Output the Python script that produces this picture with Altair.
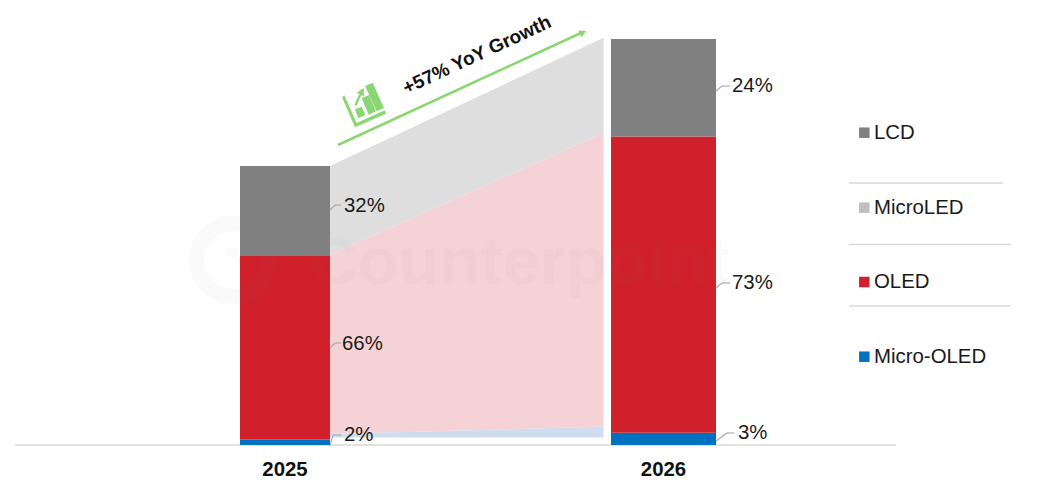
import altair as alt
import pandas as pd

# ---- data ----
years = ["2025", "2026"]
series = ["Micro-OLED", "OLED", "LCD"]
share_2025 = [2, 66, 32]
share_2026 = [3, 73, 24]
bar_total_index = [100, 145.5]          # bar heights, 2025 = 100
flow_years = [2025, 2026]
flow_blue_low = [2.7, 2.7]
flow_blue_high = [3.9, 6.6]
flow_red_high = [68.3, 111.8]
flow_grey_high = [100, 145.9]
legend_labels = ["LCD", "MicroLED", "OLED", "Micro-OLED"]
growth_label = "+57% YoY Growth"
watermark = "Counterpoint"

# ---- style ----
W, H = 1043, 473
FONT = "Liberation Sans"
COL = {"LCD": "#808080", "MicroLED": "#BFBFBF", "OLED": "#D0202B", "Micro-OLED": "#0070C0"}
GREEN = "#8AD672"
LINE = "#D9D9D9"
LEADER = "#ABABAB"
OFF = 8  # page margin: layout below is measured in page pixels

yscale = alt.Scale(domain=[-12.9, 156.6], range=[H, 0], nice=False, zero=False, clamp=False)
xflow = alt.Scale(domain=[2025, 2026], range=[330 - OFF, 603.6 - OFF], nice=False, zero=False)
Y = lambda f: alt.Y(f"{f}:Q", scale=yscale, axis=None)
one = pd.DataFrame({"a": [0]})


def seg(x1, y1, x2, y2, color=LINE, width=1.5):
    return alt.Chart(one).mark_rule(color=color, strokeWidth=width).encode(
        x=alt.value(x1 - OFF), x2=alt.value(x2 - OFF),
        y=alt.value(y1 - OFF), y2=alt.value(y2 - OFF))


def label(text, x, y, size=20.4, bold=False, align="left", angle=0, color="#1A1A1A", opacity=1):
    return alt.Chart(one).mark_text(
        text=text, font=FONT, fontSize=size, fontWeight="bold" if bold else "normal",
        align=align, baseline="middle", angle=angle, color=color, opacity=opacity
    ).encode(x=alt.value(x - OFF), y=alt.value(y - OFF))


def flow(low, high, color):
    df = pd.DataFrame({"yr": flow_years, "lo": low, "hi": high})
    return alt.Chart(df).mark_area(color=color, opacity=1).encode(
        x=alt.X("yr:Q", scale=xflow, axis=None), y=Y("hi"), y2="lo:Q")


def bar(shares, total, x1, x2):
    rows, c = [], 0
    for s, v in zip(series, shares):
        rows.append({"series": s, "y0": c * total / 100, "y1": (c + v) * total / 100})
        c += v
    return alt.Chart(pd.DataFrame(rows)).mark_rect().encode(
        x=alt.value(x1 - OFF), x2=alt.value(x2 - OFF),
        y=Y("y1"), y2="y0:Q",
        color=alt.Color("series:N", legend=None,
                        scale=alt.Scale(domain=list(COL), range=list(COL.values()))))


def icon_path():
    # outline traced from the icon, normalised around its centre
    cx, cy, r = 44 * 3, 105 * 3, 21 * 3
    polys = [
        [(66, 292), (73, 286), (110, 369), (194, 331), (198, 341), (105, 382)],
        [(105, 328), (125, 320), (136, 345), (115, 355)],
        [(125, 294), (147, 285), (168, 334), (146, 344)],
        [(135, 258), (158, 248), (192, 324), (170, 334)],
        [(103, 314), (118, 281), (110, 278), (131, 264), (132, 289), (124, 285), (109, 318)],
    ]
    d = ""
    for p in polys:
        pts = [f"{(x - cx) / r:.3f},{(y - cy) / r:.3f}" for x, y in p]
        d += "M" + "L".join(pts) + "Z"
    return d


def point(shape, x, y, size, color, angle=0, filled=True, width=0, opacity=1):
    return alt.Chart(one).mark_point(
        shape=shape, filled=filled, color=color, size=size, angle=angle,
        opacity=opacity, strokeWidth=width
    ).encode(x=alt.value(x - OFF), y=alt.value(y - OFF))


layers = [
    seg(15, 445, 896, 445),
    flow(flow_red_high, flow_grey_high, "#DEDEDE"),
    flow(flow_blue_high, flow_red_high, "#F5D2D5"),
    flow(flow_blue_low, flow_blue_high, "#D0DDEE"),
    bar(share_2025, bar_total_index[0], 240, 330),
    bar(share_2026, bar_total_index[1], 611, 716),
    # watermark
    label(watermark, 309, 264, size=67, bold=True, color="#808080", opacity=0.035),
    point("circle", 233, 260, 5329, "#808080", filled=False, width=15, opacity=0.035),
    point("circle", 232, 252, 144, "#808080", opacity=0.035),
    # year labels
    label(years[0], 285, 470, bold=True, align="center", color="#111111"),
    label(years[1], 663.5, 470, bold=True, align="center", color="#111111"),
    # growth annotation
    seg(338, 145, 583, 32, GREEN, 2.5),
    point("triangle-up", 583, 32.5, 60, GREEN, angle=65),
    label(growth_label, 477, 55, size=19, bold=True, align="center", angle=335, color="#111111"),
    point(icon_path(), 364, 105, 42 * 42, GREEN),
]

# value labels and leader lines
value_labels = [
    (f"{share_2025[2]}%", 344, 206, [(330, 210, 335, 205), (335, 205, 341, 205)]),
    (f"{share_2025[1]}%", 342, 344, [(330, 348, 335, 343), (335, 343, 341, 343)]),
    (f"{share_2025[0]}%", 344, 434.5, [(330, 446, 333, 435), (333, 435, 341, 435)]),
    (f"{share_2026[2]}%", 732, 86, [(716, 91, 722, 86), (722, 86, 730, 86)]),
    (f"{share_2026[1]}%", 732, 283, [(716, 288, 722, 283), (722, 283, 730, 283)]),
    (f"{share_2026[0]}%", 738, 432.5, [(716, 441, 727, 433), (727, 433, 734, 433)]),
]
for text, x, y, segs in value_labels:
    layers += [seg(*s, color=LEADER, width=1.2) for s in segs]
    layers.append(label(text, x, y))

# legend
for name, y in zip(legend_labels, [132.7, 207.7, 282, 356.7]):
    layers.append(point("square", 864.3, y, 110, COL[name]))
    layers.append(label(name, 874, y))
layers += [seg(849, 183, 1003, 183), seg(849, 244.5, 1011, 244.5), seg(849, 306, 1010, 306)]

chart = alt.layer(*layers).resolve_scale(color="independent").properties(
    width=W, height=H, padding=0, autosize=alt.AutoSizeParams(type="none"),
    background="white"
).configure_view(stroke=None)

chart.save("out.html", embed_options={"renderer": "svg", "actions": False})
